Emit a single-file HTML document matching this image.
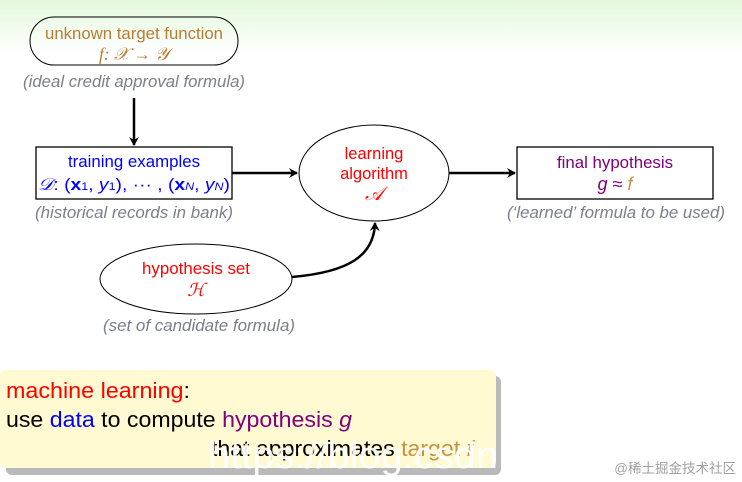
<!DOCTYPE html>
<html><head><meta charset="utf-8"><style>
html,body{margin:0;padding:0;background:#fff;}
svg{display:block;font-family:"Liberation Sans","Noto Sans CJK SC",sans-serif;}
</style></head><body>
<svg width="742" height="482" viewBox="0 0 742 482" xmlns="http://www.w3.org/2000/svg">
<defs>
<linearGradient id="g" x1="0" y1="0" x2="0" y2="1">
<stop offset="0" stop-color="#e4f8dc"/><stop offset="1" stop-color="#ffffff"/>
</linearGradient>
<marker id="a" markerWidth="10" markerHeight="10" refX="8" refY="5" orient="auto" markerUnits="userSpaceOnUse">
<path d="M0,0 L9,5 L0,10 L3,5 Z" fill="#000"/>
</marker>
</defs>
<rect x="0" y="0" width="742" height="55" fill="url(#g)"/>
<rect x="30" y="17" width="208" height="48" rx="24" fill="none" stroke="#000" stroke-width="1"/>
<text x="134" y="39" font-size="16.5" fill="#b87c33" text-anchor="middle" textLength="178" lengthAdjust="spacingAndGlyphs">unknown target function</text>
<text x="134" y="60" font-size="18" fill="#b87c33" text-anchor="middle" font-family="Liberation Serif,serif" font-style="italic" textLength="70" lengthAdjust="spacingAndGlyphs">f: 𝒳 → 𝒴</text>
<text x="134" y="87" font-size="17" fill="#7a7f8a" font-style="italic" text-anchor="middle" textLength="222" lengthAdjust="spacingAndGlyphs">(ideal credit approval formula)</text>
<line x1="134" y1="98" x2="134" y2="145" stroke="#000" stroke-width="2.5" marker-end="url(#a)"/>
<rect x="36" y="147" width="196" height="52" fill="none" stroke="#000" stroke-width="1.3"/>
<text x="134" y="167" font-size="16.5" fill="#0000ff" text-anchor="middle" textLength="132" lengthAdjust="spacingAndGlyphs">training examples</text>
<text x="134" y="190" font-size="17" fill="#0000ff" text-anchor="middle" textLength="192" lengthAdjust="spacingAndGlyphs"><tspan font-style="italic" font-family="Liberation Serif,serif">𝒟</tspan>: (<tspan font-weight="bold">x</tspan><tspan font-size="11">1</tspan>, <tspan font-style="italic">y</tspan><tspan font-size="11">1</tspan>), ··· , (<tspan font-weight="bold">x</tspan><tspan font-size="11" font-style="italic">N</tspan>, <tspan font-style="italic">y</tspan><tspan font-size="11" font-style="italic">N</tspan>)</text>
<text x="134" y="218" font-size="17" fill="#7a7f8a" font-style="italic" text-anchor="middle" textLength="198" lengthAdjust="spacingAndGlyphs">(historical records in bank)</text>
<line x1="232" y1="173" x2="297" y2="173" stroke="#000" stroke-width="2.5" marker-end="url(#a)"/>
<ellipse cx="374" cy="173" rx="75" ry="48" fill="none" stroke="#000" stroke-width="1"/>
<text x="374" y="159" font-size="16.5" fill="#ff0000" text-anchor="middle">learning</text>
<text x="374" y="179" font-size="16.5" fill="#ff0000" text-anchor="middle">algorithm</text>
<text x="374" y="200" font-size="19" fill="#ff0000" text-anchor="middle" font-style="italic" font-family="Liberation Serif,serif">𝒜</text>
<line x1="449" y1="173" x2="515" y2="173" stroke="#000" stroke-width="2.5" marker-end="url(#a)"/>
<rect x="517" y="147" width="196" height="52" fill="none" stroke="#000" stroke-width="1.3"/>
<text x="615" y="168" font-size="16.5" fill="#800080" text-anchor="middle" textLength="116" lengthAdjust="spacingAndGlyphs">final hypothesis</text>
<text x="615" y="190" font-size="18" text-anchor="middle" font-style="italic"><tspan fill="#800080">g</tspan><tspan fill="#800080" font-style="normal"> ≈ </tspan><tspan fill="#c89040">f</tspan></text>
<text x="616" y="218" font-size="17" fill="#7a7f8a" font-style="italic" text-anchor="middle" textLength="218" lengthAdjust="spacingAndGlyphs">(‘learned’ formula to be used)</text>
<ellipse cx="196" cy="279" rx="96" ry="35" fill="none" stroke="#000" stroke-width="1"/>
<text x="196" y="274" font-size="16.5" fill="#ff0000" text-anchor="middle" textLength="108" lengthAdjust="spacingAndGlyphs">hypothesis set</text>
<text x="196" y="296" font-size="18" fill="#ff0000" text-anchor="middle" font-style="italic" font-family="Liberation Serif,serif">ℋ</text>
<path d="M292,277 C350,272 374,255 375,223" fill="none" stroke="#000" stroke-width="2.5" marker-end="url(#a)"/>
<text x="199" y="331" font-size="17" fill="#7a7f8a" font-style="italic" text-anchor="middle" textLength="192" lengthAdjust="spacingAndGlyphs">(set of candidate formula)</text>
<rect x="6" y="376" width="495" height="99" rx="6" fill="#8a8a8a" opacity="0.6"/>
<rect x="0" y="370" width="496" height="98" rx="6" fill="#fffad2"/>
<text x="6" y="398" font-size="22.5" fill="#000" textLength="184" lengthAdjust="spacingAndGlyphs"><tspan fill="#ff0000">machine learning</tspan>:</text>
<text x="6" y="427" font-size="22.5" fill="#000" textLength="346" lengthAdjust="spacingAndGlyphs">use <tspan fill="#0000ff">data</tspan> to compute <tspan fill="#800080">hypothesis <tspan font-style="italic">g</tspan></tspan></text>
<text x="211" y="456" font-size="22.5" fill="#000" textLength="262" lengthAdjust="spacingAndGlyphs">that approximates <tspan fill="#c89040">target <tspan font-style="italic">f</tspan></tspan></text>
<text x="208" y="468" font-size="38" fill="#ffffff" opacity="0.92" textLength="290" lengthAdjust="spacingAndGlyphs">https://blog.csdn</text>
<text x="736" y="473" font-size="13.5" fill="#a0a0a0" text-anchor="end">@稀土掘金技术社区</text>
</svg>
</body></html>
